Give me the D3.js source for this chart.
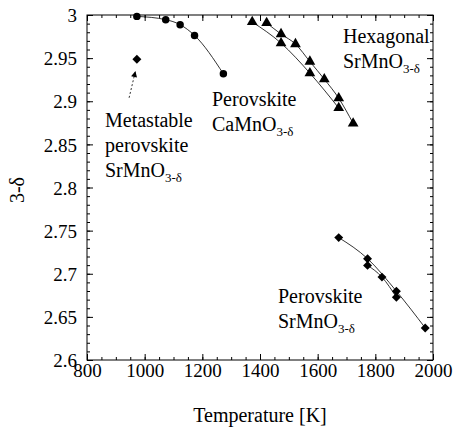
<!DOCTYPE html>
<html>
<head>
<meta charset="utf-8">
<script src="https://cdn.jsdelivr.net/npm/d3@7"></script>
<style>
  body { margin: 0; background: #fff; }
  svg text { font-family: "Liberation Serif", "DejaVu Serif", serif; fill: #000; }
</style>
</head>
<body>
<div id="chart"></div>
<script>
// x ticks and y ticks
var xTicks = [800, 1000, 1200, 1400, 1600, 1800, 2000];
var yTicks = [2.6, 2.65, 2.7, 2.75, 2.8, 2.85, 2.9, 2.95, 3];

// perovskite CaMnO3-d (circles)
var caTemp = [973, 1073, 1123, 1173, 1273];
var caVal  = [2.9984, 2.9946, 2.9888, 2.9763, 2.9318];

// metastable perovskite SrMnO3-d (single diamond)
var metaTemp = [973];
var metaVal  = [2.9488];

// hexagonal SrMnO3-d, two runs (triangles)
var hexATemp = [1373, 1473, 1573, 1673];
var hexAVal  = [2.9919, 2.9674, 2.9326, 2.8922];
var hexBTemp = [1423, 1473, 1523, 1573, 1623, 1673, 1723];
var hexBVal  = [2.9907, 2.9779, 2.9663, 2.946, 2.9256, 2.9035, 2.8744];

// perovskite SrMnO3-d, two runs (diamonds)
var perATemp = [1673, 1773, 1873, 1973];
var perAVal  = [2.7419, 2.7175, 2.6798, 2.6372];
var perBTemp = [1773, 1823, 1873];
var perBVal  = [2.7097, 2.6961, 2.6728];

var W = 453, H = 429;
var pLeft = 87, pRight = 433, pTop = 15, pBottom = 360;

var svg = d3.select("#chart").append("svg")
    .attr("width", W).attr("height", H);

var x = d3.scaleLinear().domain([800, 2000]).range([pLeft, pRight]);
var y = d3.scaleLinear().domain([2.6, 3]).range([pBottom, pTop]);

function zip(t, v) { return t.map(function(d, i) { return {t: d, v: v[i]}; }); }

var xMinor = d3.range(800, 2001, 50);
var yMinor = d3.range(0, 41).map(function(i) { return +(2.6 + i * 0.01).toFixed(2); });

// ticks, all pointing inward
function drawAxis(axis, tx, ty) {
    var g = svg.append("g").attr("transform", "translate(" + tx + "," + ty + ")").call(axis);
    g.select(".domain").remove();
    g.selectAll("line").attr("stroke", "#000").attr("stroke-width", 1);
    return g;
}
drawAxis(d3.axisBottom(x).tickValues(xMinor).tickSize(-3).tickFormat(""), 0, pBottom);
drawAxis(d3.axisTop(x).tickValues(xMinor).tickSize(-3).tickFormat(""), 0, pTop);
drawAxis(d3.axisLeft(y).tickValues(yMinor).tickSize(-3).tickFormat(""), pLeft, 0);
drawAxis(d3.axisRight(y).tickValues(yMinor).tickSize(-3).tickFormat(""), pRight, 0);

var gx = drawAxis(d3.axisBottom(x).tickValues(xTicks).tickSize(-6).tickFormat(d3.format("d")), 0, pBottom);
gx.selectAll("text").attr("font-size", 19).attr("font-family", "Liberation Serif")
    .attr("y", 17).attr("dy", 0);
drawAxis(d3.axisTop(x).tickValues(xTicks).tickSize(-6).tickFormat(""), 0, pTop);

var gy = drawAxis(d3.axisLeft(y).tickValues(yTicks).tickSize(-6)
    .tickFormat(function(d) { return String(+d.toFixed(2)); }), pLeft, 0);
gy.selectAll("text").attr("font-size", 19).attr("font-family", "Liberation Serif")
    .attr("x", -10).attr("dy", "0.35em");
drawAxis(d3.axisRight(y).tickValues(yTicks).tickSize(-6).tickFormat(""), pRight, 0);

// frame
svg.append("rect")
    .attr("x", pLeft).attr("y", pTop)
    .attr("width", pRight - pLeft).attr("height", pBottom - pTop)
    .attr("fill", "none").attr("stroke", "#000").attr("stroke-width", 1);

// lines
var line = d3.line()
    .x(function(d) { return x(d.t); })
    .y(function(d) { return y(d.v); })
    .curve(d3.curveMonotoneX);

[zip(caTemp, caVal), zip(hexATemp, hexAVal), zip(hexBTemp, hexBVal),
 zip(perATemp, perAVal), zip(perBTemp, perBVal)].forEach(function(s) {
    svg.append("path").datum(s)
        .attr("d", line)
        .attr("fill", "none").attr("stroke", "#000").attr("stroke-width", 0.8);
});

// markers
function markers(data, type, size) {
    svg.selectAll(null).data(data).enter().append("path")
        .attr("d", d3.symbol().type(type).size(size))
        .attr("transform", function(d) { return "translate(" + x(d.t) + "," + y(d.v) + ")"; })
        .attr("fill", "#000");
}
markers(zip(caTemp, caVal), d3.symbolCircle, 44);
markers(zip(hexATemp, hexAVal).concat(zip(hexBTemp, hexBVal)), d3.symbolTriangle, 50);
svg.selectAll(null)
    .data(zip(metaTemp, metaVal).concat(zip(perATemp, perAVal), zip(perBTemp, perBVal)))
    .enter().append("path")
    .attr("d", d3.symbol().type(d3.symbolSquare).size(40))
    .attr("transform", function(d) { return "translate(" + x(d.t) + "," + y(d.v) + ") rotate(45)"; })
    .attr("fill", "#000");

// arrow to metastable point
svg.append("defs").append("marker")
    .attr("id", "head").attr("viewBox", "0 0 10 10")
    .attr("refX", 10).attr("refY", 5)
    .attr("markerWidth", 10).attr("markerHeight", 6)
    .attr("markerUnits", "userSpaceOnUse")
    .attr("orient", "auto")
    .append("path").attr("d", "M0,0 L10,5 L0,10 Z").attr("fill", "#000");
svg.append("line")
    .attr("x1", x(946)).attr("y1", y(2.904))
    .attr("x2", x(968)).attr("y2", y(2.935))
    .attr("stroke", "#000").attr("stroke-width", 0.8)
    .attr("stroke-dasharray", "2,2")
    .attr("marker-end", "url(#head)");

// labels
function label(lines, px, py) {
    var t = svg.append("text").attr("font-size", 20);
    lines.forEach(function(l, i) {
        t.append("tspan").attr("x", px).attr("y", py + i * 25).text(l[0]);
        if (l[1]) {
            t.append("tspan").attr("font-size", 13).attr("dy", 5).text(l[1]);
        }
    });
}
label([["Hexagonal"], ["SrMnO", "3-δ"]], 343, 43);
label([["Perovskite"], ["CaMnO", "3-δ"]], 212, 106);
label([["Metastable"], ["perovskite"], ["SrMnO", "3-δ"]], 105, 127);
label([["Perovskite"], ["SrMnO", "3-δ"]], 278, 303);

// axis titles
svg.append("text")
    .attr("x", (pLeft + pRight) / 2).attr("y", 422)
    .attr("text-anchor", "middle").attr("font-size", 20)
    .text("Temperature [K]");
svg.append("text")
    .attr("transform", "translate(24," + 190 + ") rotate(-90)")
    .attr("text-anchor", "middle").attr("font-size", 20)
    .text("3-δ");
</script>
</body>
</html>
